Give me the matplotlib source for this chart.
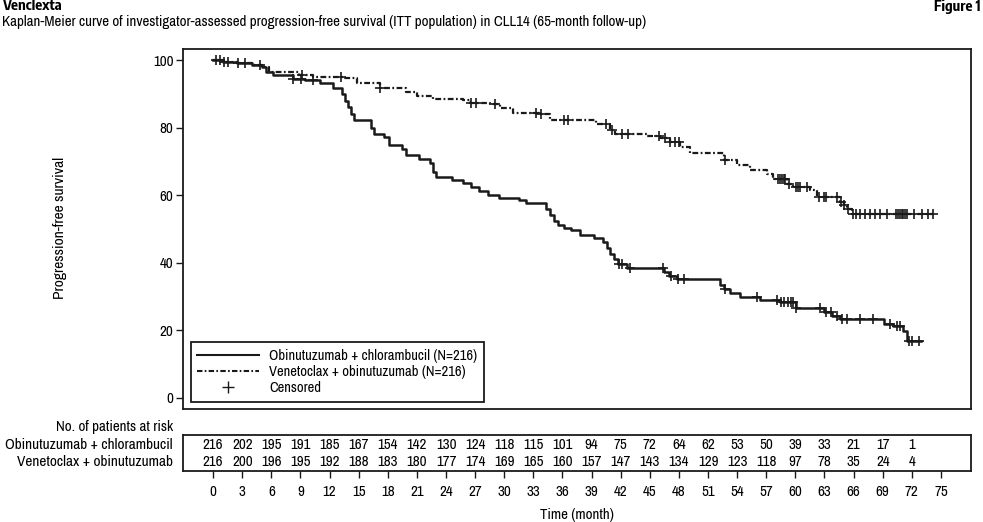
import matplotlib
matplotlib.use("Agg")
import matplotlib.pyplot as plt
from matplotlib.lines import Line2D
import numpy as np

plt.rcParams['font.family'] = ['Archivo Narrow', 'DejaVu Sans']
plt.rcParams['font.size'] = 10.5

# Kaplan-Meier steps (time in months, PFS in %)
clb_time = [0, 1.0, 2.5, 4.0, 5.0, 5.5, 6.2, 8.2, 9.5, 11.0, 12.4, 13.3, 13.6, 13.9,
            14.2, 14.5, 16.3, 16.6, 17.6, 18.1, 19.5, 19.9, 21.2, 22.4, 22.7, 23.0,
            24.6, 25.8, 26.6, 27.4, 28.3, 29.5, 31.5, 32.2, 34.3, 34.7, 35.1, 35.5,
            36.2, 36.9, 37.8, 39.2, 40.2, 40.6, 40.9, 41.3, 41.7, 42.6, 46.5, 47.0,
            47.8, 52.2, 52.6, 53.3, 54.3, 56.4, 58.4, 60.1, 62.9, 63.8, 64.6, 69.1,
            70.1, 71.1, 71.5, 72.9]
clb_surv = [100, 99.5, 99.1, 98.6, 98.0, 96.5, 95.5, 94.5, 94.0, 93.2, 91.8, 90.0, 88.0, 86.0,
            84.0, 82.4, 80.0, 78.0, 77.3, 74.8, 73.8, 71.8, 70.8, 69.6, 67.0, 65.3,
            64.6, 63.6, 62.3, 61.2, 60.2, 59.2, 58.5, 57.8, 56.0, 54.0, 52.5, 51.2,
            50.2, 49.6, 48.3, 47.2, 46.1, 44.5, 42.7, 41.0, 39.5, 38.5, 37.2, 36.2,
            35.2, 33.5, 32.3, 31.0, 29.8, 29.1, 28.3, 26.6, 25.3, 24.3, 23.3, 21.9,
            21.4, 19.9, 16.9, 16.9]
clb_cens = [0.3, 0.7, 1.1, 1.5, 2.6, 3.3, 4.8, 8.2, 9.1, 10.3, 41.8, 42.1, 43.0, 46.4,
            47.2, 47.9, 48.5, 52.8, 56.0, 58.1, 58.5, 58.8, 59.2, 59.5, 59.8, 60.1,
            62.5, 63.2, 63.7, 64.3, 64.8, 65.3, 66.7, 68.0, 69.8, 70.5, 70.8, 71.7,
            72.0, 72.7]

ven_time = [0, 1.0, 2.5, 4.0, 5.0, 5.8, 8.9, 10.3, 13.4, 14.8, 17.2, 19.9, 21.0, 22.7,
            25.8, 26.5, 28.5, 29.6, 30.9, 33.7, 34.7, 39.5, 40.9, 41.4, 44.7, 46.1,
            47.1, 48.1, 49.1, 52.6, 54.0, 55.3, 57.1, 57.7, 59.1, 59.8, 61.5, 62.2,
            64.6, 65.0, 65.3, 65.8, 74.2]
ven_surv = [100, 99.5, 99.1, 98.6, 98.0, 96.5, 95.5, 95.0, 94.6, 93.1, 91.6, 90.6, 89.3, 88.6,
            88.3, 87.3, 86.9, 85.7, 84.4, 84.0, 82.3, 81.0, 79.2, 78.0, 77.4, 76.8,
            75.8, 74.3, 72.5, 70.5, 68.8, 67.4, 66.4, 64.9, 63.4, 62.4, 61.4, 59.6,
            58.0, 57.0, 56.0, 54.3, 54.3]
ven_cens = [9.2, 13.2, 17.2, 26.6, 27.1, 29.0, 33.3, 33.8, 36.2, 36.6, 40.5, 41.1, 42.1,
            42.8, 45.9, 46.6, 47.1, 47.6, 48.0, 52.8, 58.2, 58.4, 58.6, 58.8, 58.9, 59.3,
            60.1, 60.3, 60.5, 61.2, 62.4, 62.9, 63.2, 64.3, 64.7, 65.0, 65.4, 65.9, 66.3,
            66.7, 67.2, 67.7, 68.2, 68.7, 69.4, 70.4, 70.6, 70.8, 71.0, 71.1, 71.3, 71.5,
            72.2, 73.0, 73.7, 74.2]

risk_times = list(range(0, 75, 3))
risk_clb = [216, 202, 195, 191, 185, 167, 154, 142, 130, 124, 118, 115, 101, 94, 75, 72,
            64, 62, 53, 50, 39, 33, 21, 17, 1]
risk_ven = [216, 200, 196, 195, 192, 188, 183, 180, 177, 174, 169, 165, 160, 157, 147, 143,
            134, 129, 123, 118, 97, 78, 35, 24, 4]

lab_clb = 'Obinutuzumab + chlorambucil (N=216)'
lab_ven = 'Venetoclax + obinutuzumab (N=216)'
row_names = ['Obinutuzumab + chlorambucil', 'Venetoclax + obinutuzumab']

ink = '#1a1a1a'
dashdot = (0, (2.6, 1.1, 0.8, 1.1))
bold_font = ['Encode Sans Condensed', 'Archivo Narrow', 'DejaVu Sans']


def at(times, surv, t):
    i = np.searchsorted(times, t, side='right') - 1
    return np.array(surv)[i]


fig = plt.figure(figsize=(9.83, 5.22), dpi=100)
ax = fig.add_axes([0.1862, 0.2165, 0.8016, 0.6897])

ax.step(clb_time, clb_surv, where='post', color=ink, lw=1.8)
ax.step(ven_time, ven_surv, where='post', color=ink, lw=1.6, linestyle=dashdot)
ax.plot(clb_cens, at(clb_time, clb_surv, clb_cens), '+', color=ink, ms=7, mew=1.2)
ax.plot(ven_cens, at(ven_time, ven_surv, ven_cens), '+', color=ink, ms=7, mew=1.2)

ax.set_xlim(-3.1, 78.1)
ax.set_ylim(-3.3, 103.3)
ax.set_yticks([0, 20, 40, 60, 80, 100])
ax.tick_params(axis='x', bottom=False, labelbottom=False)
ax.tick_params(axis='y', direction='out', length=5, width=1, color=ink, labelsize=10.8, pad=2)
for s in ax.spines.values():
    s.set_linewidth(1.3)
    s.set_color(ink)

handles = [Line2D([], [], color=ink, lw=1.5),
           Line2D([], [], color=ink, lw=1.5, linestyle=dashdot),
           Line2D([], [], color=ink, marker='+', linestyle='none', ms=9, mew=1.0)]
leg = ax.legend(handles, [lab_clb, lab_ven, 'Censored'], loc='lower left',
                bbox_to_anchor=(0.010, 0.020), borderaxespad=0, fancybox=False,
                framealpha=1, edgecolor=ink, handlelength=4.2, handletextpad=0.7,
                labelspacing=0.15, borderpad=0.45, fontsize=10.5)
leg.get_frame().set_linewidth(1.3)

fig.text(60 / 983, 1 - 228 / 522, 'Progression-free survival', rotation=90,
         ha='center', va='center', fontsize=11.2)

# number at risk table
tab = fig.add_axes([0.1862, 0.0977, 0.8016, 0.069])
tab.set_xlim(-3.1, 78.1)
tab.set_ylim(0, 1)
tab.set_yticks([])
tab.set_xticks(list(range(0, 76, 3)))
tab.tick_params(axis='x', direction='out', length=5, width=1, color=ink, labelsize=10.8, pad=5)
for s in tab.spines.values():
    s.set_linewidth(1.3)
    s.set_color(ink)
for t, a, b in zip(risk_times, risk_clb, risk_ven):
    tab.text(t, 0.72, str(a), ha='center', va='center', fontsize=10.8)
    tab.text(t, 0.26, str(b), ha='center', va='center', fontsize=10.8)

fig.text(173 / 983, 1 - 427 / 522, 'No. of patients at risk', ha='right', va='center', fontsize=10.8)
fig.text(173 / 983, 1 - 445 / 522, row_names[0], ha='right', va='center', fontsize=11)
fig.text(173 / 983, 1 - 462 / 522, row_names[1], ha='right', va='center', fontsize=11)
fig.text(577 / 983, 1 - 515 / 522, 'Time (month)', ha='center', va='center', fontsize=10.8)

fig.text(2 / 983, 1 - 6 / 522, 'Venclexta', ha='left', va='center', fontsize=10.5,
         fontweight='bold', family=bold_font)
fig.text(980 / 983, 1 - 6 / 522, 'Figure 1', ha='right', va='center', fontsize=10.5,
         fontweight='bold', family=bold_font)
fig.text(2 / 983, 1 - 22 / 522,
         'Kaplan-Meier curve of investigator-assessed progression-free survival '
         '(ITT population) in CLL14 (65-month follow-up)',
         ha='left', va='center', fontsize=10.8)

fig.savefig('out.png', dpi=100)
